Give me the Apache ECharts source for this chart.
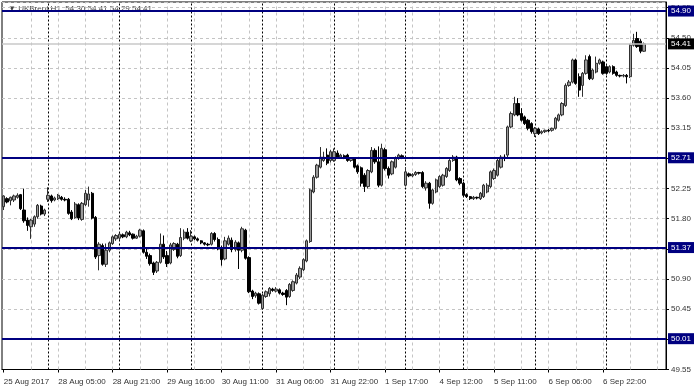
<!DOCTYPE html>
<html><head><meta charset="utf-8">
<script src="https://cdn.jsdelivr.net/npm/echarts@6/dist/echarts.min.js"></script>
<style>html,body{margin:0;padding:0;background:#fff}#c{width:700px;height:392px}</style>
</head><body><div id="c"></div>
<script>
// trading sessions: [day, first hour, last hour]
const sessions = [
  ['25 Aug', 10, 22], ['28 Aug', 2, 22], ['29 Aug', 2, 22], ['30 Aug', 2, 22],
  ['31 Aug', 2, 22], ['1 Sep', 2, 22], ['4 Sep', 2, 18], ['5 Sep', 2, 22],
  ['6 Sep', 2, 22], ['7 Sep', 2, 13]
];
const firstLabel = '25 Aug 2017';
const titleText = '\u25BC UKBrent,H1  54.30 54.41 54.29 54.41';

const opens = [51.98,52.10,52.07,52.08,52.12,52.16,51.93,51.78,51.68,51.72,51.83,51.99,51.87,
52.09,52.14,52.08,52.10,52.12,52.09,52.09,51.90,51.82,52.01,51.79,52.01,52.08,52.18,51.82,51.25,51.40,51.12,51.33,51.43,51.50,
51.51,51.56,51.53,51.59,51.57,51.51,51.54,51.62,51.30,51.25,51.14,51.02,51.15,51.42,51.25,51.14,51.34,51.42,51.25,51.51,51.60,
51.47,51.53,51.50,51.47,51.44,51.42,51.42,51.58,51.49,51.37,51.20,51.42,51.48,51.34,51.44,51.33,51.63,51.22,50.72,50.65,50.68,
50.46,50.64,50.68,50.75,50.72,50.74,50.69,50.73,50.64,50.73,50.84,50.93,51.04,51.17,51.46,52.20,52.42,52.57,52.67,52.75,52.67,
52.67,52.78,52.72,52.74,52.75,52.67,52.70,52.59,52.56,52.45,52.28,52.50,52.82,52.65,52.30,52.83,52.55,52.47,52.57,52.70,52.74,
52.30,52.47,52.44,52.46,52.49,52.49,52.26,52.33,52.03,52.20,52.28,52.30,52.43,52.52,52.67,52.72,52.40,
52.33,52.16,52.13,52.10,52.12,52.10,52.13,52.20,52.28,52.40,52.45,52.57,52.72,52.75,53.17,53.35,53.52,53.37,53.32,53.27,53.22,
53.07,53.14,53.08,53.10,53.12,53.12,53.15,53.27,53.35,53.49,53.79,53.84,54.17,53.92,53.79,53.97,54.22,53.89,53.99,54.12,54.14,
54.07,53.99,54.07,53.99,53.94,53.93,53.94,53.92,54.39,54.49,54.45,54.30];
const closes = [52.14,52.05,52.12,52.14,52.15,51.95,51.77,51.70,51.78,51.83,52.00,51.87,51.93,
52.15,52.07,52.11,52.15,52.09,52.08,51.88,51.80,52.02,51.81,52.03,52.18,52.17,51.81,51.23,51.42,51.12,51.33,51.44,51.53,51.55,
51.57,51.53,51.60,51.56,51.51,51.54,51.63,51.30,51.24,51.13,51.00,51.15,51.42,51.23,51.13,51.41,51.43,51.24,51.52,51.60,51.51,
51.54,51.50,51.48,51.44,51.42,51.41,51.58,51.49,51.35,51.19,51.47,51.51,51.34,51.45,51.33,51.65,51.21,50.71,50.64,50.69,50.54,
50.66,50.71,50.76,50.73,50.75,50.69,50.67,50.63,50.82,50.86,50.96,51.06,51.19,51.47,52.23,52.42,52.60,52.72,52.72,52.63,52.80,
52.80,52.72,52.75,52.71,52.67,52.70,52.57,52.50,52.33,52.28,52.52,52.82,52.65,52.30,52.85,52.55,52.45,52.65,52.70,52.75,52.71,
52.50,52.44,52.46,52.49,52.48,52.28,52.33,52.03,52.23,52.38,52.43,52.45,52.55,52.67,52.72,52.38,52.33,
52.15,52.13,52.10,52.12,52.11,52.18,52.30,52.30,52.50,52.52,52.67,52.72,52.70,53.17,53.37,53.52,53.35,53.27,53.22,53.15,53.10,
53.15,53.07,53.10,53.12,53.11,53.15,53.30,53.35,53.52,53.79,53.84,54.17,53.82,53.72,53.97,54.17,53.89,54.02,54.12,54.17,53.97,
53.97,54.07,53.97,53.94,53.93,53.94,53.92,54.39,54.46,54.37,54.30,54.41];
const lows = [51.93,52.03,52.00,52.05,52.10,51.93,51.74,51.62,51.50,51.68,51.80,51.85,51.84,
52.05,52.04,52.06,52.08,52.07,52.06,51.86,51.78,51.80,51.78,51.77,51.99,51.98,51.79,51.20,51.03,51.10,51.08,51.30,51.41,51.47,
51.48,51.51,51.51,51.54,51.49,51.50,51.52,51.28,51.20,51.10,50.96,50.99,51.13,51.20,51.08,51.12,51.32,51.21,51.23,51.48,51.49,
51.45,51.48,51.46,51.42,51.40,51.39,51.40,51.46,51.33,51.10,51.18,51.40,51.30,51.31,51.05,51.30,51.19,50.69,50.60,50.62,50.52,
50.44,50.62,50.64,50.71,50.70,50.67,50.65,50.51,50.62,50.71,50.82,50.90,51.02,51.15,51.44,52.18,52.40,52.55,52.65,52.60,52.64,
52.65,52.70,52.70,52.69,52.65,52.65,52.55,52.47,52.28,52.20,52.25,52.48,52.62,52.27,52.28,52.52,52.40,52.45,52.55,52.68,52.69,
52.28,52.42,52.42,52.44,52.46,52.26,52.22,51.95,52.01,52.18,52.26,52.28,52.41,52.50,52.65,52.36,52.30,
52.13,52.11,52.08,52.08,52.09,52.08,52.11,52.18,52.26,52.38,52.43,52.55,52.66,52.72,53.15,53.33,53.33,53.25,53.20,53.12,53.07,
53.02,53.05,53.06,53.08,53.09,53.10,53.13,53.25,53.33,53.47,53.77,53.82,53.80,53.62,53.62,53.95,53.87,53.87,53.97,54.10,53.95,
53.95,53.97,53.95,53.92,53.91,53.91,53.82,53.90,54.37,54.35,54.27,54.29];
const highs = [52.15,52.12,52.13,52.16,52.18,52.17,52.25,51.82,51.80,51.85,52.02,52.01,51.95,
52.27,52.16,52.13,52.17,52.14,52.12,52.11,51.93,52.05,52.03,52.05,52.23,52.28,52.20,51.84,51.45,51.43,51.43,51.46,51.55,51.57,
51.59,51.58,51.62,51.62,51.58,51.56,51.65,51.64,51.36,51.28,51.16,51.17,51.58,51.55,51.32,51.44,51.45,51.44,51.66,51.64,51.66,
51.63,51.55,51.52,51.48,51.45,51.44,51.60,51.60,51.52,51.40,51.53,51.55,51.52,51.48,51.46,51.68,51.65,51.24,50.74,50.71,50.70,
50.68,50.73,50.78,50.77,50.78,50.76,50.71,50.75,50.84,50.88,50.99,51.09,51.21,51.49,52.25,52.45,52.62,52.87,52.80,52.85,52.83,
52.85,52.82,52.77,52.76,52.77,52.72,52.72,52.61,52.58,52.48,52.54,52.87,52.85,52.88,52.92,52.86,52.58,52.67,52.73,52.77,52.76,
52.57,52.49,52.48,52.51,52.50,52.51,52.36,52.35,52.25,52.40,52.45,52.47,52.57,52.69,52.75,52.74,52.42,
52.35,52.18,52.14,52.14,52.13,52.20,52.32,52.33,52.52,52.55,52.70,52.75,52.76,53.19,53.40,53.62,53.60,53.45,53.34,53.29,53.24,
53.17,53.16,53.12,53.13,53.14,53.16,53.32,53.37,53.54,53.82,53.87,54.19,54.19,53.97,53.99,54.24,54.25,54.04,54.22,54.19,54.16,
54.09,54.09,54.09,54.01,53.95,53.96,53.96,54.41,54.56,54.59,54.48,54.43];

const levels = [54.90, 52.71, 51.37, 50.01];
const bidPrice = 54.41;
const yMin = 49.55, yStep = 0.45, yMax = 55.035;
const totalSlots = 195;

function pad(n) { return (n < 10 ? '0' : '') + n; }
const categories = [];
const dayStarts = [];
sessions.forEach(function (s) {
  dayStarts.push(categories.length);
  for (let h = s[1]; h <= s[2]; h++) categories.push(s[0] + ' ' + pad(h) + ':00');
});
const nBars = categories.length;
for (let k = nBars; k < totalSlots; k++) categories.push('slot' + k);

const candles = opens.map(function (o, i) { return [o, closes[i], lows[i], highs[i]]; });
const gridIdx = [];
for (let i = 8; i < totalSlots; i += 8) gridIdx.push(i);
const sepIdx = dayStarts.slice(1);

const font = 'Liberation Sans';
const chart = echarts.init(document.getElementById('c'), null, { renderer: 'canvas' });
chart.setOption({
  animation: false,
  backgroundColor: '#ffffff',
  grid: { left: 2, right: 34, top: 2, bottom: 22.5, show: true, borderColor: '#000', borderWidth: 1, backgroundColor: 'transparent' },
  graphic: [{ type: 'text', left: 8, top: 5, z: 0, style: { text: titleText, font: '8px "' + font + '"', fill: '#444' } }],
  xAxis: {
    type: 'category', data: categories, boundaryGap: true,
    axisLine: { show: true, lineStyle: { color: '#000', width: 1 } },
    axisTick: { show: true, alignWithLabel: true, length: 3, lineStyle: { color: '#000' },
      interval: function (i) { return i % 16 === 0 && i < nBars; } },
    axisLabel: {
      interval: function (i) { return i % 16 === 0 && i < nBars; },
      formatter: function (v, i) { return i === 0 ? firstLabel : v; },
      align: 'left', margin: 8, fontSize: 8, fontFamily: font, color: '#333'
    },
    splitLine: { show: false }
  },
  yAxis: {
    type: 'value', position: 'right', min: yMin, max: yMax, interval: yStep, scale: true,
    axisLine: { show: true, lineStyle: { color: '#000' } },
    axisTick: { show: true, length: 3, lineStyle: { color: '#000' } },
    axisLabel: { showMaxLabel: false, margin: 5, fontSize: 8, fontFamily: font, color: '#333',
      formatter: function (v) { return Math.abs(v - yMax) < 1e-6 ? '' : v.toFixed(2); } },
    splitLine: { show: true, lineStyle: { color: '#c4c4c4', type: [3, 3], width: 1 } }
  },
  series: [
    { type: 'line', data: [], z: 1, silent: true,
      markLine: { z: 1, silent: true, symbol: 'none', animation: false, label: { show: false },
        data: gridIdx.map(function (i) { return { xAxis: i, lineStyle: { color: '#c4c4c4', type: [3, 3], width: 1 } }; })
          .concat(sepIdx.map(function (i) { return { xAxis: i, lineStyle: { color: '#000', type: [2, 2], width: 1 } }; })) } },
    { type: 'candlestick', data: candles, z: 2, barWidth: 2.8,
      itemStyle: { color: '#9a9a9a', color0: '#000000', borderColor: '#303030', borderColor0: '#000000', borderWidth: 1 },
      markLine: { z: 5, silent: true, symbol: 'none', animation: false,
        data: [{ yAxis: bidPrice, lineStyle: { color: '#c8c8c8', type: 'solid', width: 1.5 },
                 label: { backgroundColor: '#000', color: '#fff' } }]
          .concat(levels.map(function (v) { return { yAxis: v, lineStyle: { color: '#000080', type: 'solid', width: 2 },
                 label: { backgroundColor: '#000080', color: '#fff' } }; })),
        label: { show: true, position: 'end', distance: 2, fontSize: 8, fontFamily: font, padding: [1, 3, 1, 3], lineHeight: 9,
          formatter: function (p) { return Number(p.value).toFixed(2); } } } }
  ]
});
</script></body></html>
